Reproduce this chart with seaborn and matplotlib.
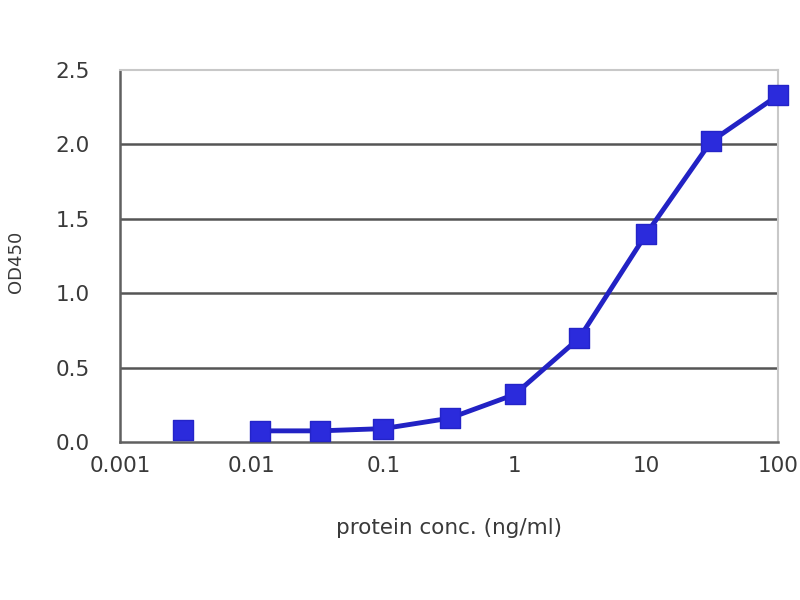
import matplotlib
matplotlib.use("Agg")
import matplotlib.pyplot as plt
import seaborn as sns
import pandas as pd
from matplotlib.ticker import FixedLocator, FixedFormatter, NullLocator

# protein concentration (ng/ml) and OD450
conc = [0.003, 0.0115, 0.033, 0.1, 0.32, 1, 3.1, 10, 31, 100]
od450 = [0.08, 0.075, 0.075, 0.09, 0.16, 0.32, 0.70, 1.40, 2.02, 2.33]

x_ticks = [0.001, 0.01, 0.1, 1, 10, 100]
x_labels = ["0.001", "0.01", "0.1", "1", "10", "100"]
y_ticks = [0.0, 0.5, 1.0, 1.5, 2.0, 2.5]
y_labels = ["0.0", "0.5", "1.0", "1.5", "2.0", "2.5"]

df = pd.DataFrame({"conc": conc, "od": od450})

sns.set_theme(style="white")
plt.rcParams["font.family"] = ["DejaVu Sans"]

fig = plt.figure(figsize=(8, 6), dpi=100)
ax = fig.add_axes([0.15, 0.2633, 0.8225, 0.62])

# the first point is not joined to the fitted line
sns.lineplot(data=df.iloc[1:], x="conc", y="od", ax=ax, color="#2222c4",
             linewidth=3.5, zorder=3)
sns.scatterplot(data=df, x="conc", y="od", ax=ax, marker="s", s=210,
                color="#2b2bdc", edgecolor="#2424c8", linewidth=1, zorder=4,
                clip_on=False)

ax.set_xscale("log")
ax.set_xlim(0.001, 100)
ax.set_ylim(0, 2.5)
ax.xaxis.set_major_locator(FixedLocator(x_ticks))
ax.xaxis.set_major_formatter(FixedFormatter(x_labels))
ax.xaxis.set_minor_locator(NullLocator())
ax.yaxis.set_major_locator(FixedLocator(y_ticks))
ax.yaxis.set_major_formatter(FixedFormatter(y_labels))

for yv in y_ticks[1:-1]:
    ax.axhline(yv, color="#555555", linewidth=1.8, zorder=1)

for side in ["top", "right"]:
    ax.spines[side].set_color("#c8c8c8")
    ax.spines[side].set_linewidth(1.5)
for side in ["left", "bottom"]:
    ax.spines[side].set_color("#606060")
    ax.spines[side].set_linewidth(1.8)

ax.tick_params(axis="both", which="major", direction="in", length=6,
               width=1.5, color="#606060", labelsize=15.5, labelcolor="#3a3a3a")
ax.tick_params(axis="x", pad=10)
ax.tick_params(axis="y", pad=22)

ax.set_xlabel("protein conc. (ng/ml)", fontsize=15.5, color="#3a3a3a", labelpad=30)
ax.set_ylabel("")
fig.text(0.02, 0.563, "OD450", rotation=90, ha="center", va="center",
         fontsize=13, color="#3a3a3a")

fig.savefig("out.png", dpi=100)
